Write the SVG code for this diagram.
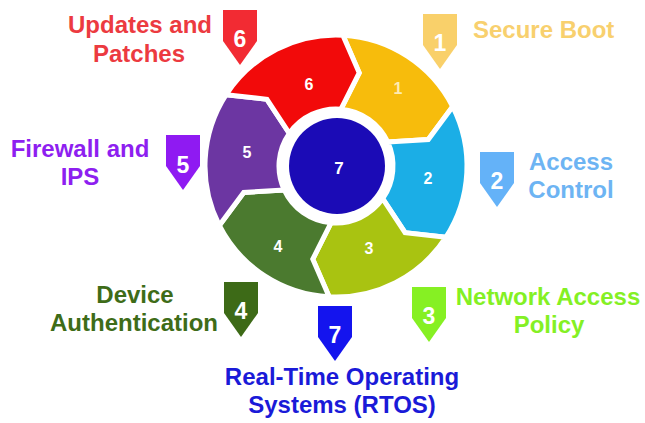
<svg xmlns="http://www.w3.org/2000/svg" width="645" height="423" viewBox="0 0 645 423">
<style>
.seg{stroke:#fff;stroke-width:5;stroke-linejoin:miter}
.sn{font-family:"Liberation Sans",Arial,sans-serif;font-weight:bold;font-size:16px;fill:#fff;text-anchor:middle}
.bn{font-family:"Liberation Sans",Arial,sans-serif;font-weight:bold;font-size:23px;fill:#fff;text-anchor:middle}
.lb{font-family:"Liberation Sans",Arial,sans-serif;font-weight:bold;font-size:24px;text-anchor:middle}
</style>
<defs>
<path id="badge" d="M0 0 H34 V31 L17 55 L0 31 Z"/>
</defs>
<rect width="645" height="423" fill="#fff"/>
<g id="connectors"/>
<g id="seg1"><path class="seg" fill="#F7BC0C" d="M342.86 35.18 A131 131 0 0 1 452.72 106.53 L428.28 139.54 L387.66 141.91 A57 57 0 0 0 340.97 109.22 L359.22 72.85 Z"/><text class="sn" x="398" y="94" fill="#FDECB5" style="fill:#FDEBB2">1</text></g>
<g id="seg2"><path class="seg" fill="#1BAEE6" d="M452.72 106.53 A131 131 0 0 1 445.87 237.35 L405.06 232.69 L382.69 198.69 A57 57 0 0 0 387.66 141.91 L428.28 139.54 Z"/><text class="sn" x="428" y="184">2</text></g>
<g id="seg3"><path class="seg" fill="#A9C311" d="M445.87 237.35 A131 131 0 0 1 329.14 296.82 L312.78 259.15 L331.03 222.78 A57 57 0 0 0 382.69 198.69 L405.06 232.69 Z"/><text class="sn" x="369" y="254">3</text></g>
<g id="seg4"><path class="seg" fill="#4B7A2F" d="M329.14 296.82 A131 131 0 0 1 219.28 225.47 L243.72 192.46 L284.34 190.09 A57 57 0 0 0 331.03 222.78 L312.78 259.15 Z"/><text class="sn" x="278" y="252">4</text></g>
<g id="seg5"><path class="seg" fill="#6C36A2" d="M219.28 225.47 A131 131 0 0 1 226.13 94.65 L266.94 99.31 L289.31 133.31 A57 57 0 0 0 284.34 190.09 L243.72 192.46 Z"/><text class="sn" x="247" y="158">5</text></g>
<g id="seg6"><path class="seg" fill="#F20A0A" d="M226.13 94.65 A131 131 0 0 1 342.86 35.18 L359.22 72.85 L340.97 109.22 A57 57 0 0 0 289.31 133.31 L266.94 99.31 Z"/><text class="sn" x="309" y="90">6</text></g>
<g id="center7"><circle cx="337" cy="166" r="48" fill="#1B0BB6"/><text class="sn" x="339" y="174" style="font-size:17px">7</text></g>
<g id="label6"><use href="#badge" x="223" y="10" fill="#F22B33"/><text class="bn" x="240" y="47">6</text><text class="lb" fill="#EC3A40" x="140" y="33">Updates and</text><text class="lb" fill="#EC3A40" x="139" y="62">Patches</text></g>
<g id="label1"><use href="#badge" x="423" y="14" fill="#F9D06A"/><text class="bn" x="440" y="51">1</text><text class="lb" fill="#F8D06E" x="473" y="38" style="text-anchor:start">Secure Boot</text></g>
<g id="label2"><use href="#badge" x="480" y="152" fill="#64B2F8"/><text class="bn" x="497" y="189">2</text><text class="lb" fill="#6DB4F3" x="571" y="170">Access</text><text class="lb" fill="#6DB4F3" x="571" y="198">Control</text></g>
<g id="label5"><use href="#badge" x="166" y="135" fill="#8F1AF2"/><text class="bn" x="183" y="173">5</text><text class="lb" fill="#8E1FF0" x="80" y="157">Firewall and</text><text class="lb" fill="#8E1FF0" x="80" y="185">IPS</text></g>
<g id="label4"><use href="#badge" x="224" y="282" fill="#3D6A17"/><text class="bn" x="241" y="319">4</text><text class="lb" fill="#3E6C18" x="135" y="303">Device</text><text class="lb" fill="#3E6C18" x="134" y="331">Authentication</text></g>
<g id="label7"><use href="#badge" x="318" y="306" fill="#1414EE"/><text class="bn" x="335" y="343">7</text><text class="lb" fill="#1A1AD8" x="342" y="385">Real-Time Operating</text><text class="lb" fill="#1A1AD8" x="342" y="413">Systems (RTOS)</text></g>
<g id="label3"><use href="#badge" x="412" y="287" fill="#86F023"/><text class="bn" x="429" y="324">3</text><text class="lb" fill="#84F024" x="548" y="305">Network Access</text><text class="lb" fill="#84F024" x="549" y="333">Policy</text></g>
</svg>
